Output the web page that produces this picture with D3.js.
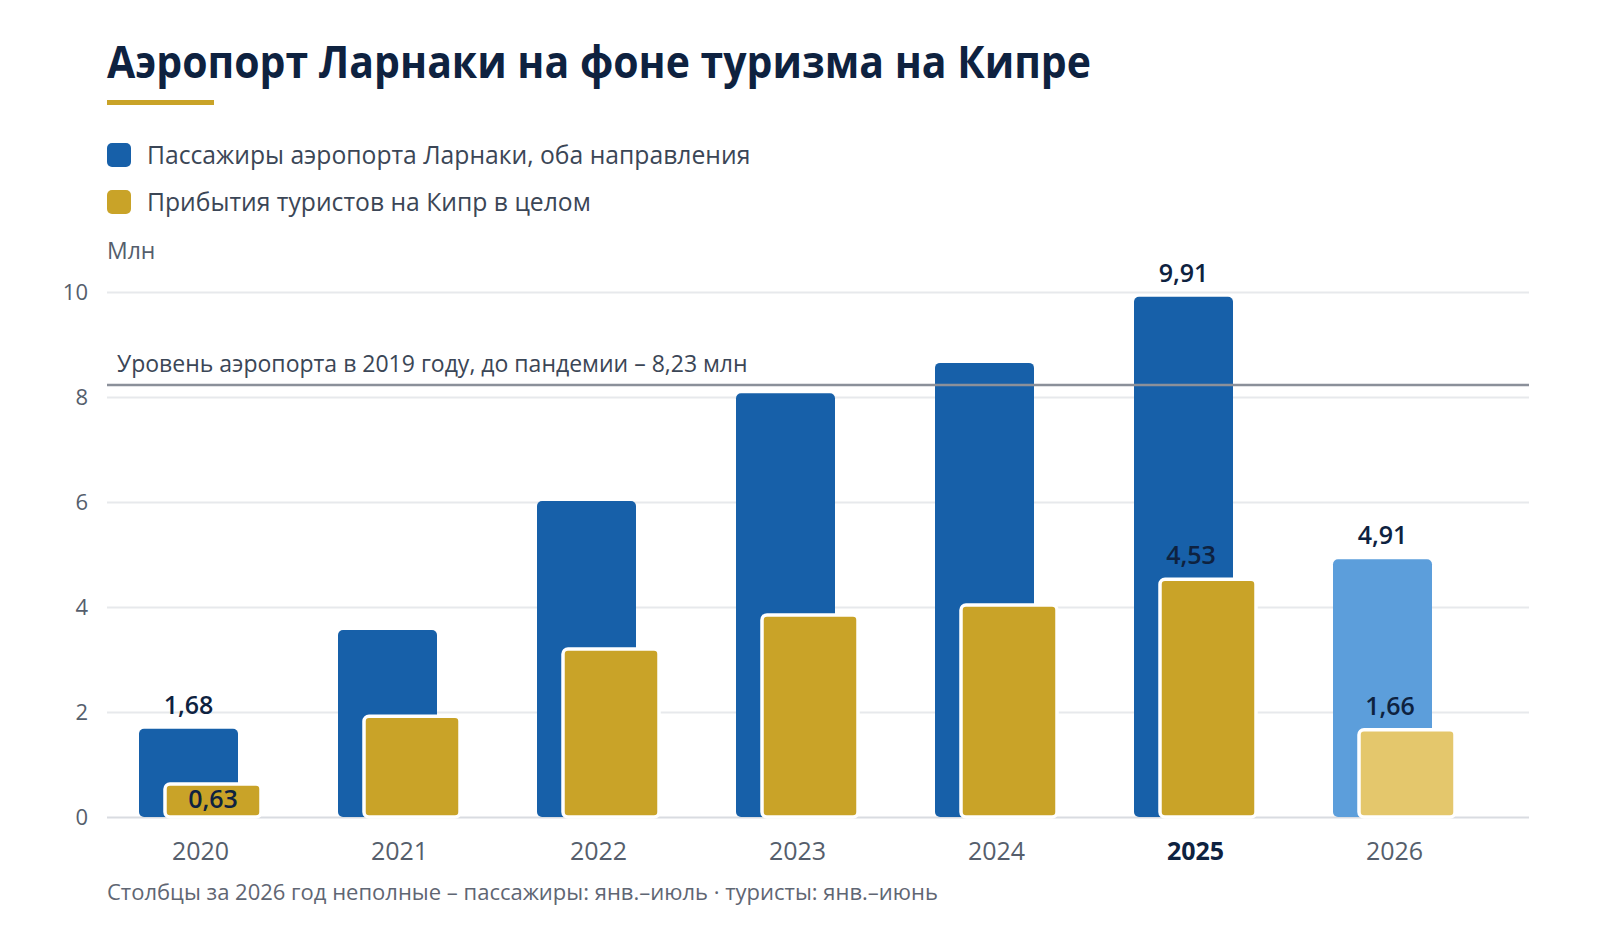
<!DOCTYPE html>
<html>
<head>
<meta charset="utf-8">
<script src="https://cdn.jsdelivr.net/npm/d3@7"></script>
<style>
  body { margin: 0; background: #fff; }
  text { font-family: "Open Sans", "Noto Sans", sans-serif; }
</style>
</head>
<body>
<div id="chartContainer"></div>
<script>
const years = ["2020", "2021", "2022", "2023", "2024", "2025", "2026"];
const passengers = [1.68, 3.56, 6.02, 8.07, 8.65, 9.91, 4.91];
const tourists = [0.63, 1.92, 3.2, 3.85, 4.04, 4.53, 1.66];
const labelledYears = ["2020", "2025", "2026"];
const partialYear = "2026";
const highlightYear = "2025";
const yTicks = [0, 2, 4, 6, 8, 10];
const prePandemic = 8.23;

const seriesNames = [
  "Пассажиры аэропорта Ларнаки, оба направления",
  "Прибытия туристов на Кипр в целом",
];
const titleText = "Аэропорт Ларнаки на фоне туризма на Кипре";
const refText = "Уровень аэропорта в 2019 году, до пандемии – 8,23 млн";
const footText = "Столбцы за 2026 год неполные – пассажиры: янв.–июль · туристы: янв.–июнь";

function pageLoaded() {
  const w = 1600;
  const h = 928;
  const plot = { left: 107, right: 1529, top: 292, bottom: 817 };

  const colors = {
    blue: "#1760a9",
    blueLight: "#5c9edb",
    gold: "#c9a328",
    goldLight: "#e4c76c",
    ink: "#0e2240",
    grey: "#555e6c",
    grid: "#e7e9ec",
  };

  const data = years.map((y, i) => ({
    year: y,
    pass: passengers[i],
    tour: tourists[i],
  }));

  const svg = d3
    .select("#chartContainer")
    .append("svg")
    .attr("width", w)
    .attr("height", h)
    .attr("viewBox", [0, 0, w, h]);

  // title + underline
  svg
    .append("text")
    .attr("x", 107)
    .attr("y", 78)
    .attr("font-size", "45px")
    .attr("font-weight", "bold")
    .attr("fill", colors.ink)
    .attr("textLength", 984)
    .attr("lengthAdjust", "spacingAndGlyphs")
    .text(titleText);

  svg
    .append("rect")
    .attr("x", 107)
    .attr("y", 100)
    .attr("width", 107)
    .attr("height", 5)
    .attr("fill", colors.gold);

  // legend
  const legend = svg
    .selectAll("g.legend")
    .data(seriesNames)
    .enter()
    .append("g")
    .attr("class", "legend")
    .attr("transform", (d, i) => `translate(107, ${143 + i * 47})`);

  legend
    .append("rect")
    .attr("width", 24)
    .attr("height", 24)
    .attr("rx", 5)
    .attr("fill", (d, i) => (i === 0 ? colors.blue : colors.gold));

  legend
    .append("text")
    .attr("x", 40)
    .attr("y", 21)
    .attr("font-size", "24.7px")
    .attr("fill", "#3b4656")
    .text((d) => d);

  svg
    .append("text")
    .attr("x", 107)
    .attr("y", 259)
    .attr("font-size", "23px")
    .attr("fill", colors.grey)
    .text("Млн");

  // scales
  const xScale = d3.scaleBand().domain(years).range([101, 101 + 7 * 199]).padding(0);
  const yScale = d3
    .scaleLinear()
    .domain([0, d3.max(yTicks)])
    .range([plot.bottom, plot.top]);

  const yAxis = d3
    .axisLeft(yScale)
    .tickValues(yTicks)
    .tickSize(-(plot.right - plot.left))
    .tickPadding(19)
    .tickFormat((d) => d);

  const yG = svg
    .append("g")
    .attr("transform", `translate(${plot.left}, 0)`)
    .call(yAxis);
  yG.select(".domain").remove();
  yG.selectAll(".tick line")
    .attr("stroke", (d) => (d === 0 ? "#d9dce1" : colors.grid))
    .attr("stroke-width", 2);
  yG.selectAll(".tick text")
    .attr("font-size", "22px")
    .attr("fill", colors.grey)
    .attr("font-family", '"Open Sans", sans-serif');

  const blueW = 99;
  const goldW = 96;
  const blueOff = 38;
  const goldOff = 64;

  const g = svg
    .append("g")
    .selectAll("g")
    .data(data)
    .enter()
    .append("g");

  g.append("rect")
    .attr("x", (d) => xScale(d.year) + blueOff)
    .attr("y", (d) => yScale(d.pass))
    .attr("width", blueW)
    .attr("height", (d) => yScale(0) - yScale(d.pass))
    .attr("rx", 5)
    .attr("fill", (d) => (d.year === partialYear ? colors.blueLight : colors.blue));

  g.append("rect")
    .attr("x", (d) => xScale(d.year) + goldOff)
    .attr("y", (d) => yScale(d.tour))
    .attr("width", goldW)
    .attr("height", (d) => yScale(0) - yScale(d.tour))
    .attr("rx", 5)
    .attr("fill", (d) => (d.year === partialYear ? colors.goldLight : colors.gold))
    .attr("stroke", "#fff")
    .attr("stroke-width", 3.5);

  // pre-pandemic reference line
  svg
    .append("line")
    .attr("x1", plot.left)
    .attr("x2", plot.right)
    .attr("y1", yScale(prePandemic))
    .attr("y2", yScale(prePandemic))
    .attr("stroke", "#8b909a")
    .attr("stroke-width", 2.5);

  svg
    .append("text")
    .attr("x", 117)
    .attr("y", yScale(prePandemic) - 13)
    .attr("font-size", "23px")
    .attr("fill", "#3b4656")
    .text(refText);

  // value labels
  const fmt = (v) => v.toFixed(2).replace(".", ",");
  const lab = data.filter((d) => labelledYears.includes(d.year));

  svg
    .selectAll("text.pass")
    .data(lab)
    .enter()
    .append("text")
    .attr("class", "pass")
    .attr("x", (d) => xScale(d.year) + blueOff + blueW / 2)
    .attr("y", (d) => yScale(d.pass) - 15)
    .attr("text-anchor", "middle")
    .attr("font-size", "25px")
    .attr("font-weight", 600)
    .attr("fill", colors.ink)
    .text((d) => fmt(d.pass));

  // short bars carry the label inside; taller ones sit above, nudged left
  svg
    .selectAll("text.tour")
    .data(lab)
    .enter()
    .append("text")
    .attr("class", "tour")
    .attr("x", (d) => xScale(d.year) + goldOff + goldW / 2 - (d.tour < 1 ? 0 : 17))
    .attr("y", (d) => (d.tour < 1 ? yScale(d.tour) + 24 : yScale(d.tour) - 15))
    .attr("text-anchor", "middle")
    .attr("font-size", "25px")
    .attr("font-weight", 600)
    .attr("fill", colors.ink)
    .text((d) => fmt(d.tour));

  // x labels
  svg
    .selectAll("text.year")
    .data(years)
    .enter()
    .append("text")
    .attr("class", "year")
    .attr("x", (d) => xScale(d) + xScale.bandwidth() / 2)
    .attr("y", 860)
    .attr("text-anchor", "middle")
    .attr("font-size", "25px")
    .attr("font-weight", (d) => (d === highlightYear ? "bold" : "normal"))
    .attr("fill", (d) => (d === highlightYear ? colors.ink : colors.grey))
    .text((d) => d);

  svg
    .append("text")
    .attr("x", 107)
    .attr("y", 900)
    .attr("font-size", "22px")
    .attr("fill", "#5f6673")
    .text(footText);
}

window.addEventListener("load", pageLoaded);
</script>
</body>
</html>
